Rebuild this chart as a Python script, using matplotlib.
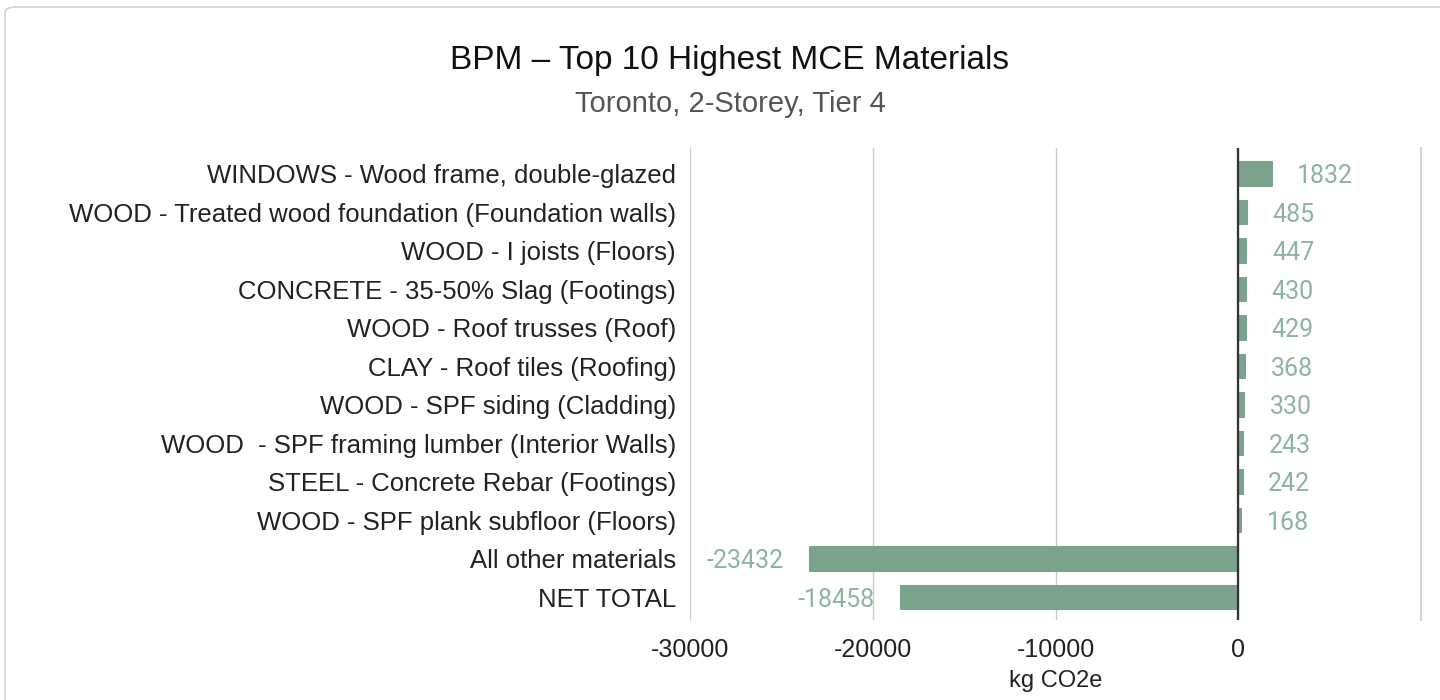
import matplotlib.pyplot as plt
from matplotlib.patches import FancyBboxPatch

# chart data
materials = [
    "WINDOWS - Wood frame, double-glazed",
    "WOOD - Treated wood foundation (Foundation walls)",
    "WOOD - I joists (Floors)",
    "CONCRETE - 35-50% Slag (Footings)",
    "WOOD - Roof trusses (Roof)",
    "CLAY - Roof tiles (Roofing)",
    "WOOD - SPF siding (Cladding)",
    "WOOD  - SPF framing lumber (Interior Walls)",
    "STEEL - Concrete Rebar (Footings)",
    "WOOD - SPF plank subfloor (Floors)",
    "All other materials",
    "NET TOTAL",
]
mce = [1832, 485, 447, 430, 429, 368, 330, 243, 242, 168, -23432, -18458]
xticks = [-30000, -20000, -10000, 0]

bar_col = "#7aa28c"
lbl_col = "#8db49f"
txt_font = ["Liberation Sans", "DejaVu Sans"]

fig = plt.figure(figsize=(14.4, 7), dpi=100)

# light frame around the chart (only left/top edges visible)
frame = FancyBboxPatch((5 / 1440, -0.05), 1.2, 1 - 7 / 700 + 0.05,
                       boxstyle="round,pad=0,rounding_size=0.008",
                       transform=fig.transFigure, facecolor="white",
                       edgecolor="#d4d4d4", linewidth=1.2, zorder=-10)
fig.patches.append(frame)

ax = fig.add_axes([690 / 1440, 1 - 620 / 700, (1421 - 690) / 1440, (620 - 148) / 700])
ax.set_facecolor("none")

y = list(range(len(materials)))
ax.barh(y, mce, height=0.6, color=bar_col, edgecolor=bar_col, linewidth=1.5,
        joinstyle="round", zorder=3)
ax.set_ylim(11.585, -0.675)
ax.set_xlim(-30000, 10000)

for yi, v in zip(y, mce):
    if v >= 0:
        ax.annotate(str(v), (v, yi), xytext=(18.5, 0), textcoords="offset points",
                    ha="left", va="center_baseline", fontsize=18, color=lbl_col,
                    family=["Roboto", "DejaVu Sans"])
    else:
        ax.annotate(str(v), (v, yi), xytext=(-19, 0), textcoords="offset points",
                    ha="right", va="center_baseline", fontsize=18, color=lbl_col,
                    family=["Roboto", "DejaVu Sans"])

ax.set_xticks(xticks)
ax.set_xticklabels([str(t) for t in xticks], family=txt_font, fontsize=18, color="#222222")
ax.set_yticks(y)
ax.set_yticklabels(materials, family=txt_font, fontsize=18.5, color="#222222")
ax.tick_params(axis="both", length=0)
ax.tick_params(axis="y", pad=10)
ax.tick_params(axis="x", pad=13)
ax.grid(axis="x", color="#cccccc", linewidth=1, zorder=0)
ax.axvline(10000, color="#cccccc", linewidth=1.2, zorder=0, clip_on=False)
ax.axvline(0, color="#333333", linewidth=1.6, zorder=4)
for s in ax.spines.values():
    s.set_visible(False)

ax.set_xlabel("kg CO2e", family=txt_font, fontsize=17, color="#222222", labelpad=6)

fig.text(730 / 1440, 1 - 61 / 700, "BPM \u2013 Top 10 Highest MCE Materials", ha="center",
         va="center", fontsize=24, family=txt_font, color="#111111")
fig.text(730 / 1440, 1 - 104 / 700, "Toronto, 2-Storey, Tier 4", ha="center", va="center",
         fontsize=21, family=txt_font, color="#555555")

fig.savefig("out.png", dpi=100)
